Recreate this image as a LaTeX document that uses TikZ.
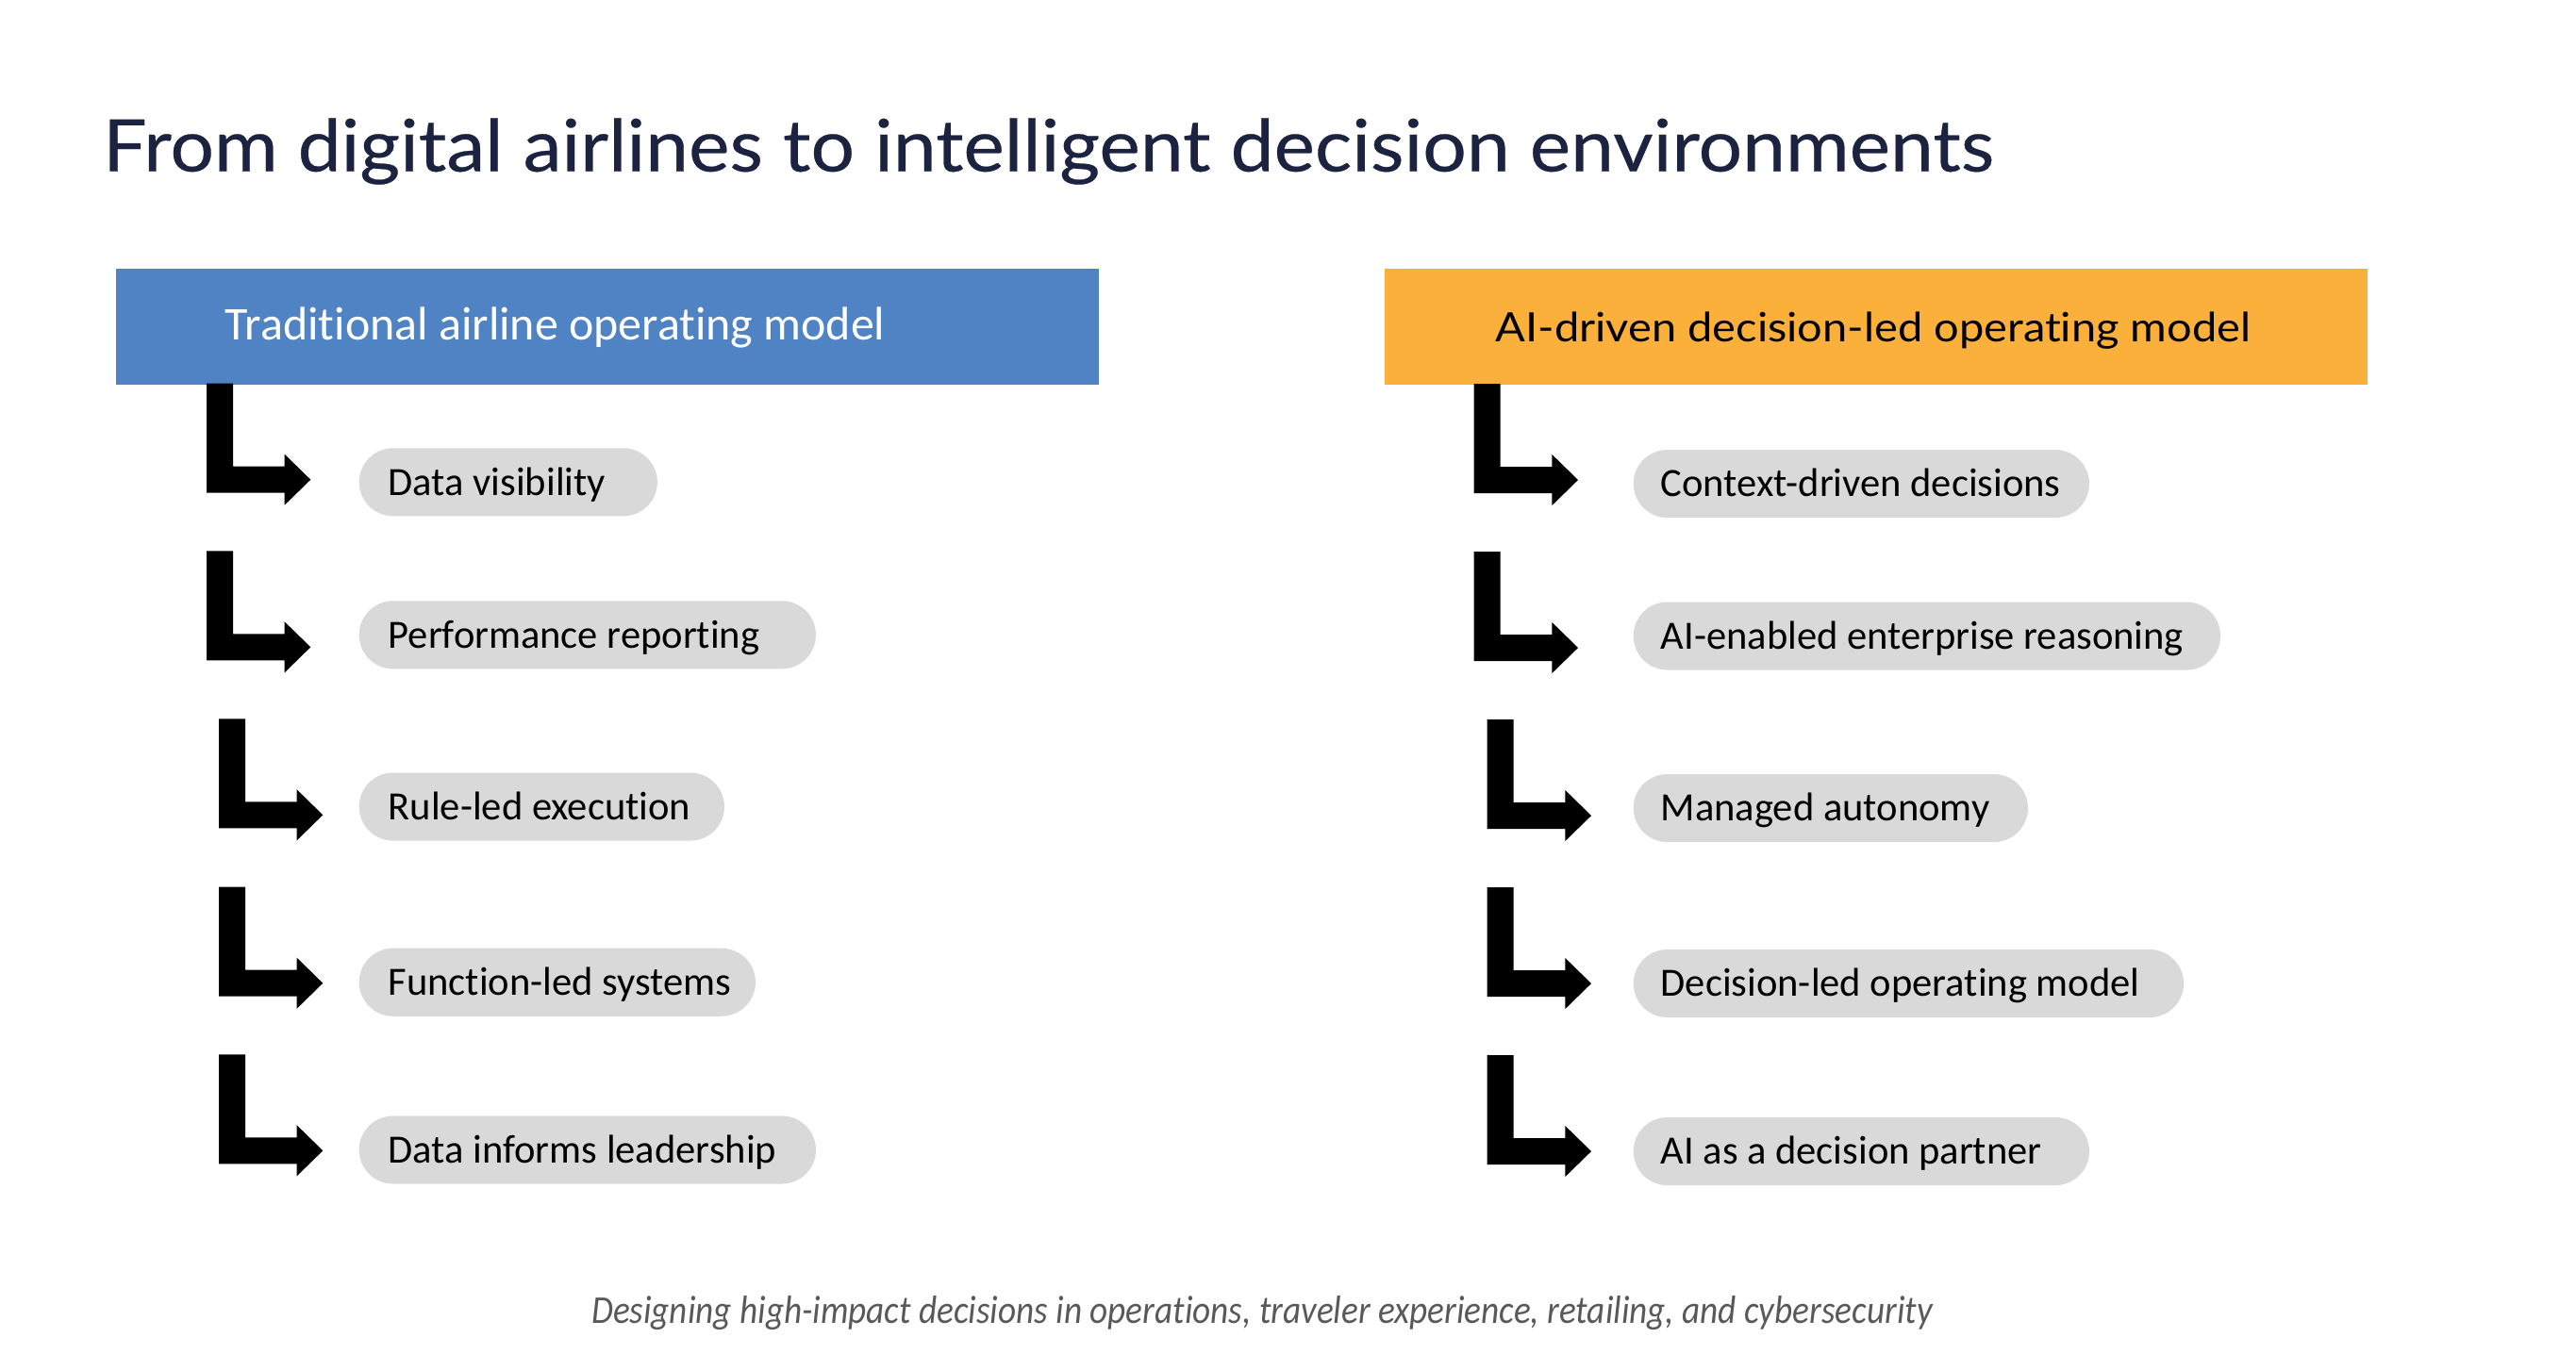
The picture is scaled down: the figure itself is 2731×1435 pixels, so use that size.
\documentclass[tikz,border=0pt]{standalone}
\usepackage{fontspec}
\setmainfont{Carlito}[Ligatures=NoCommon]
\newfontfamily\titlefont{Lato}[FakeBold=0.35]
\newfontfamily\orangefont{Lato}[Ligatures=NoCommon]
\definecolor{titlenavy}{HTML}{1C2340}
\definecolor{hblue}{HTML}{4F83C4}
\definecolor{horange}{HTML}{FBB03B}
\definecolor{pillgray}{HTML}{D9D9D9}
\definecolor{footgray}{HTML}{595959}
\newcommand\pilltext[2]{\makebox[#1][l]{#2}}
\begin{document}
\begin{tikzpicture}[x=0.01cm,y=-0.01cm,
  pillL/.style={fill=pillgray, rounded corners=3.6mm, minimum height=7.2mm, inner ysep=0pt, inner xsep=3.1mm,
    anchor=west, text height=3.5mm, text depth=0.76mm,
    font=\fontsize{12.1pt}{14pt}\selectfont},
  pillR/.style={pillL, inner xsep=2.9mm},
  hbox/.style={anchor=north west, inner sep=0pt, minimum width=10.408cm, minimum height=1.23cm},
  hlabel/.style={anchor=base west, inner sep=0pt},
  larrow/.pic={\fill[black] (0,0) -- (28,0) -- (28,88) -- (82.7,88) -- (82.7,75) -- (110.3,102)
     -- (82.7,129) -- (82.7,116) -- (0,116) -- cycle;}
]
\useasboundingbox (0,0) rectangle (2731,1435);
\fill[white] (0,0) rectangle (2731,1435);

% title
\node[anchor=base west, inner sep=0pt, text=titlenavy,
  font=\titlefont\fontsize{21.8pt}{26pt}\selectfont] (title) at (108.5,181.7)
  {\scalebox{1.072}[1]{From digital airlines to intelligent decision environments}};

% header boxes
\node[hbox, fill=hblue] (blue) at (122.5,284) {};
\node[hlabel, text=white, font=\fontsize{14.2pt}{16pt}\selectfont] (bluelabel) at (238,360.7)
  {Traditional airline operating model};
\node[hbox, fill=horange] (orange) at (1467.7,284) {};
\node[hlabel, text=black, font=\orangefont\fontsize{12.2pt}{15pt}\selectfont] (orangelabel) at (1585,362)
  {\scalebox{1.095}[1]{AI-driven decision-led operating model}};

% left arrows
\pic at (219,406.7) {larrow};
\pic at (219,584.3) {larrow};
\pic at (232,762.3) {larrow};
\pic at (232,940.7) {larrow};
\pic at (232,1118.3) {larrow};
% right arrows
\pic at (1562.7,407) {larrow};
\pic at (1562.7,585) {larrow};
\pic at (1576.7,763) {larrow};
\pic at (1576.7,941) {larrow};
\pic at (1576.7,1119) {larrow};

% left pills
\node[pillL] (l1) at (380,511.3) {\pilltext{25.4mm}{Data visibility}};
\node[pillL] (l2) at (380,673.3) {\pilltext{42.2mm}{Performance reporting}};
\node[pillL] (l3) at (380,855.5) {\pilltext{32.5mm}{Rule-led execution}};
\node[pillL] (l4) at (380,1041.7) {\pilltext{35.8mm}{Function-led systems}};
\node[pillL] (l5) at (380,1219.5) {\pilltext{42.2mm}{Data informs leadership}};
% right pills
\node[pillR] (r1) at (1731,513) {\pilltext{42.5mm}{Context-driven decisions}};
\node[pillR] (r2) at (1731,674.5) {\pilltext{56.4mm}{AI-enabled enterprise reasoning}};
\node[pillR] (r3) at (1731,857) {\pilltext{36.0mm}{Managed autonomy}};
\node[pillR] (r4) at (1731,1043) {\pilltext{52.5mm}{Decision-led operating model}};
\node[pillR] (r5) at (1731,1221) {\pilltext{42.5mm}{AI as a decision partner}};

% footer
\node[anchor=base, inner sep=0pt, text=footgray, font=\itshape\fontsize{11.9pt}{14pt}\selectfont] (foot) at (1338,1403)
  {\scalebox{0.89}[1]{Designing high-impact decisions in operations, traveler experience, retailing, and cybersecurity}};
\end{tikzpicture}
\end{document}
